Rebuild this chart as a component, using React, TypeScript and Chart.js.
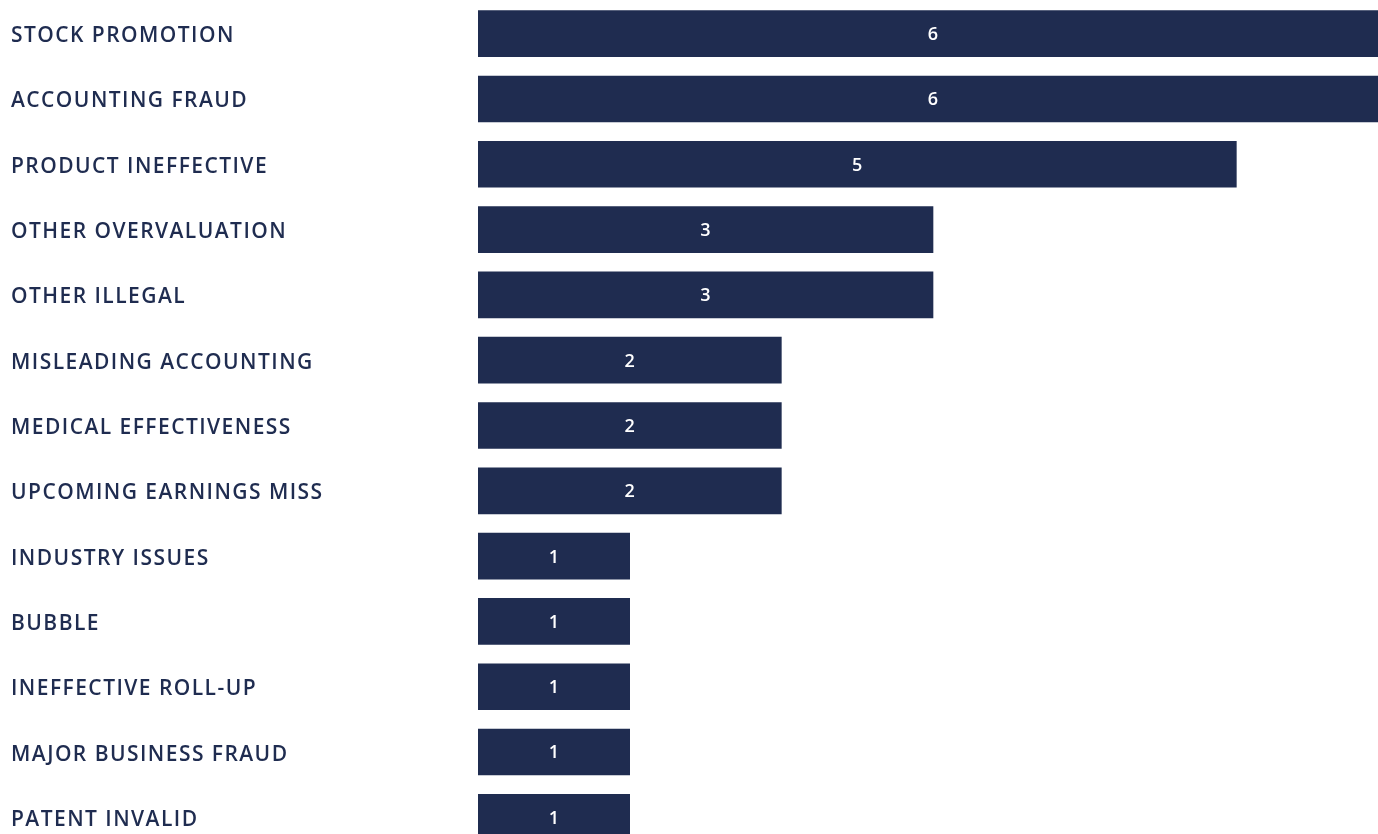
import React, { useEffect, useRef } from "react";
import { Chart, registerables } from "chart.js";

Chart.register(...registerables);

const categories = [
  "STOCK PROMOTION",
  "ACCOUNTING FRAUD",
  "PRODUCT INEFFECTIVE",
  "OTHER OVERVALUATION",
  "OTHER ILLEGAL",
  "MISLEADING ACCOUNTING",
  "MEDICAL EFFECTIVENESS",
  "UPCOMING EARNINGS MISS",
  "INDUSTRY ISSUES",
  "BUBBLE",
  "INEFFECTIVE ROLL-UP",
  "MAJOR BUSINESS FRAUD",
  "PATENT INVALID",
];
const counts = [6, 6, 5, 3, 3, 2, 2, 2, 1, 1, 1, 1, 1];

const NAVY = "#1f2c50";
const FONT = "'Open Sans', Lato, sans-serif";

const labelStyle = {
  id: "labelStyle",
  beforeDraw(chart: any) {
    chart.ctx.save();
    chart.ctx.letterSpacing = "1.45px";
    chart.ctx.translate(0, 2.5);
  },
  beforeDatasetsDraw(chart: any) {
    chart.ctx.restore();
  },
};

const valueLabels = {
  id: "valueLabels",
  afterDatasetsDraw(chart: any) {
    const ctx = chart.ctx;
    const meta = chart.getDatasetMeta(0);
    ctx.save();
    ctx.letterSpacing = "0px";
    ctx.fillStyle = "#ffffff";
    ctx.font = `600 18px ${FONT}`;
    ctx.textAlign = "center";
    ctx.textBaseline = "middle";
    meta.data.forEach((bar: any, i: number) => {
      const cx = (bar.x + bar.base) / 2;
      ctx.fillText(String(counts[i]), cx, bar.y + 1.3);
    });
    ctx.restore();
  },
};

export default function App() {
  const ref = useRef<HTMLCanvasElement>(null);
  useEffect(() => {
    document.body.style.margin = "0";
    document.body.style.overflow = "hidden";
    const chart = new Chart(ref.current!, {
      type: "bar",
      data: {
        labels: categories,
        datasets: [
          {
            data: counts,
            backgroundColor: NAVY,
            borderWidth: 0,
            barThickness: 46,
          },
        ],
      },
      options: {
        indexAxis: "y",
        animation: false,
        responsive: true,
        maintainAspectRatio: false,
        layout: { padding: { left: 11, top: 0, right: 0, bottom: 0 } },
        plugins: { legend: { display: false }, tooltip: { enabled: false } },
        scales: {
          x: { display: false, min: 0, max: 6 },
          y: {
            grid: { display: false },
            border: { display: false },
            afterFit: (axis: any) => {
              axis.width = 467;
              axis.paddingTop = 10;
              axis.paddingBottom = 10;
            },
            ticks: {
              crossAlign: "far",
              color: NAVY,
              padding: 0,
              font: { family: FONT, size: 21, weight: 600 },
            },
          },
        },
      },
      plugins: [labelStyle, valueLabels],
    });
    return () => chart.destroy();
  }, []);
  return (
    <div style={{ position: "fixed", left: 0, top: -9, width: 1388, height: 869 }}>
      <canvas ref={ref} />
    </div>
  );
}
